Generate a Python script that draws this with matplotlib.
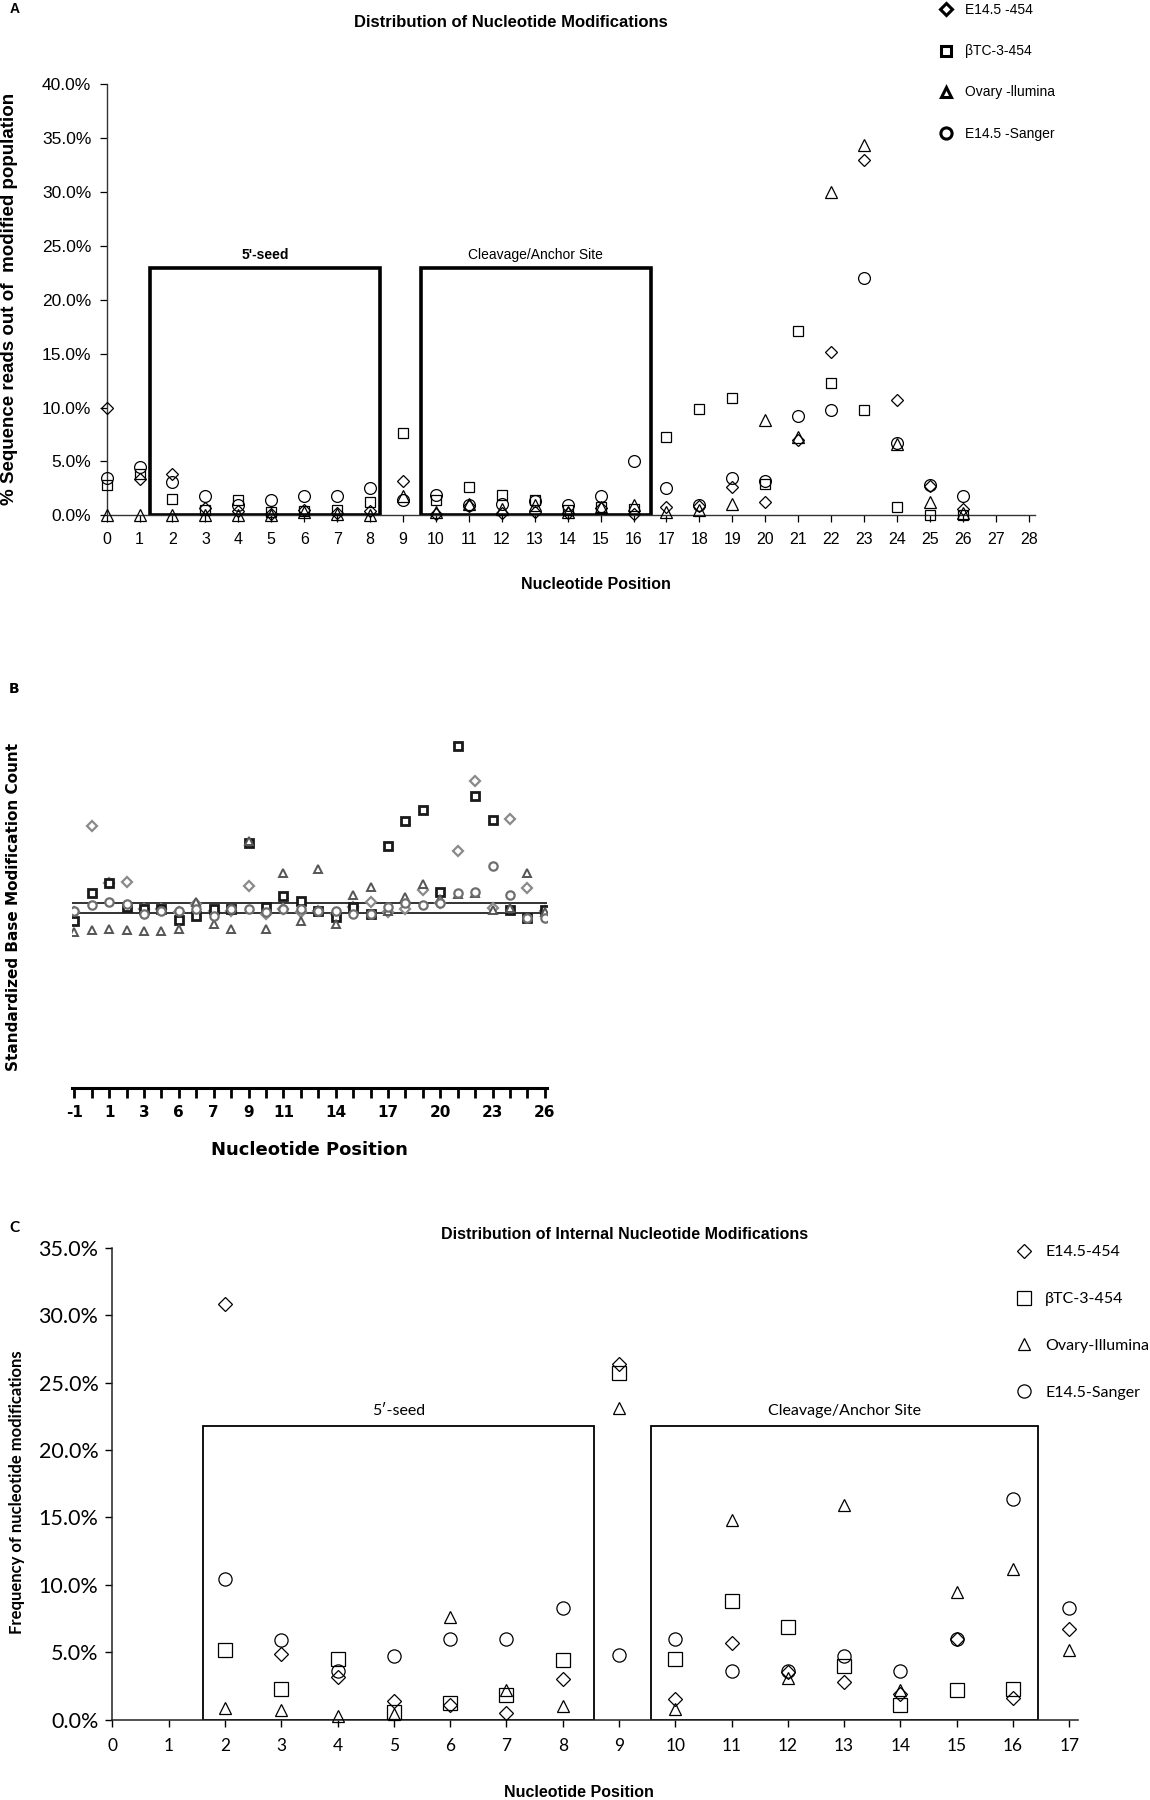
import matplotlib
matplotlib.use("Agg")
import matplotlib.pyplot as plt
from matplotlib.lines import Line2D
from matplotlib.patches import Rectangle
from matplotlib.ticker import FuncFormatter
import numpy as np

# ---------------- data ----------------
series_names_a = ["E14.5 -454", "\u03b2TC-3-454", "Ovary -llumina", "E14.5 -Sanger"]
series_names_c = ["E14.5-454", "\u03b2TC-3-454", "Ovary-Illumina", "E14.5-Sanger"]

# Panel A: % sequence reads out of modified population, positions 0..26
pos_a = list(range(0, 27))
a_e14_454 = [10.0, 3.4, 3.8, 0.7, 0.4, 0.1, 0.5, 0.2, 0.4, 3.2, 0.1, 0.9, 0.2, 0.3, 0.2, 0.7, 0.1,
             0.8, 0.9, 2.6, 1.2, 7.0, 15.1, 32.9, 10.7, 2.7, 0.6]
a_btc = [2.8, 3.8, 1.5, 0.5, 1.4, 0.3, 0.4, 0.5, 1.2, 7.6, 1.4, 2.6, 1.9, 1.4, 0.5, 0.8, 0.6,
         7.3, 9.9, 10.9, 2.9, 17.1, 12.3, 9.8, 0.8, 0.0, 0.0]
a_ovary = [0.0, 0.0, 0.0, 0.0, 0.0, 0.0, 0.3, 0.1, 0.0, 1.8, 0.3, 1.1, 0.6, 1.0, 0.3, 0.8, 1.0,
           0.3, 0.5, 1.1, 8.8, 7.3, 30.0, 34.3, 6.6, 1.2, 0.2]
a_sanger = [3.5, 4.5, 3.1, 1.8, 1.0, 1.4, 1.8, 1.8, 2.5, 1.4, 1.9, 1.0, 1.1, 1.3, 1.0, 1.8, 5.0,
            2.5, 1.0, 3.5, 3.2, 9.2, 9.8, 22.0, 6.7, 2.8, 1.8]
a_ticks = list(range(0, 29))

# Panel B: standardized base modification count, positions -1..26
pos_b = list(range(-1, 27))
b_e14_454 = [0.1, 8.7, 3.0, 3.1, 0.4, 0.4, 0.1, 0.9, 0.2, 0.2, 2.7, -0.1, 0.4, 0.1, 0.2, -0.1,
             0.6, 1.1, 0.1, 0.4, 2.3, 1.0, 6.2, 13.2, 0.5, 9.4, 2.5, 0.2]
b_btc = [-0.8, 2.0, 3.0, 0.6, 0.4, 0.4, -0.7, -0.3, 0.4, 0.4, 7.0, 0.6, 1.7, 1.2, 0.2, -0.4,
         0.6, -0.1, 6.7, 9.2, 10.3, 2.1, 16.7, 11.7, 9.3, 0.3, -0.5, 0.3]
b_ovary = [-1.9, -1.7, -1.6, -1.7, -1.8, -1.8, -1.6, 1.1, -1.1, -1.6, 7.2, -1.6, 4.0, -0.8, 4.4,
           -1.1, 1.8, 2.6, 0.2, 1.6, 2.9, 1.4, 1.9, 2.0, 0.3, 0.5, 4.0, 0.1]
b_sanger = [0.2, 0.8, 1.1, 0.9, -0.1, 0.2, 0.2, 0.4, -0.3, 0.4, 0.4, 0.1, 0.4, 0.4, 0.2, 0.2,
            -0.1, -0.1, 0.6, 1.0, 0.8, 1.0, 2.0, 2.1, 4.7, 1.8, -0.5, -0.5]
b_reference_lines = [0.0, 1.0]
b_label_pos = [-1, 1, 3, 5, 7, 9, 11, 14, 17, 20, 23, 26]
b_label_txt = ["-1", "1", "3", "6", "7", "9", "11", "14", "17", "20", "23", "26"]

# Panel C: frequency of internal nucleotide modifications, positions 2..17
pos_c = list(range(2, 18))
c_e14_454 = [30.8, 4.9, 3.2, 1.4, 1.1, 0.5, 3.0, 26.4, 1.5, 5.7, 3.5, 2.8, 1.9, 6.0, 1.6, 6.7]
c_btc = [5.2, 2.3, 4.5, 0.6, 1.2, 1.8, 4.4, 25.7, 4.5, 8.8, 6.9, 4.0, 1.1, 2.2, 2.3, np.nan]
c_ovary = [0.9, 0.7, 0.3, 0.4, 7.6, 2.2, 1.0, 23.1, 0.8, 14.8, 3.1, 15.9, 2.2, 9.5, 11.2, 5.2]
c_sanger = [10.4, 5.9, 3.6, 4.7, 6.0, 6.0, 8.3, 4.8, 6.0, 3.6, 3.6, 4.7, 3.6, 6.0, 16.4, 8.3]
c_ticks = list(range(0, 18))

# ---------------- layout helpers (reference layout units) ----------------
W, H = 1003.0, 1568.0
def fx(x):
    return x / W
def fy(y):
    return 1 - y / H
def rect(l, t, r, b):
    return [fx(l), fy(b), (r - l) / W, (b - t) / H]

ARIAL = "Liberation Sans"
CAL = "Lato"
HEAVY = "DejaVu Sans"

markers = ["D", "s", "^", "o"]
msizes = [6.5, 7, 8, 8.5]
pct = FuncFormatter(lambda v, p: f"{v:.1f}%")

fig = plt.figure(figsize=(11.5, 18), dpi=100)

# ================= Panel A =================
axA = fig.add_axes(rect(93, 73, 903, 449))
for ys, m, ms in zip([a_e14_454, a_btc, a_ovary, a_sanger], markers, msizes):
    axA.plot(pos_a, ys, linestyle="none", marker=m, ms=ms, mfc="none", mec="black", mew=0.9,
             clip_on=False, zorder=3)
axA.set_xlim(0, 28.2)
axA.set_ylim(0, 40)
axA.set_yticks(np.arange(0, 40.1, 5))
axA.yaxis.set_major_formatter(pct)
axA.set_xticks(a_ticks)
for s in ["top", "right"]:
    axA.spines[s].set_visible(False)
for s in ["left", "bottom"]:
    axA.spines[s].set_linewidth(1.0)
    axA.spines[s].set_color("#333333")
axA.tick_params(axis="y", direction="out", length=5, width=0.9, labelsize=12.5, pad=6)
axA.tick_params(axis="x", direction="out", length=5, width=0.9, labelsize=11.5, pad=7)
for lab in axA.get_xticklabels() + axA.get_yticklabels():
    lab.set_fontfamily(ARIAL)
# boxes
axA.add_patch(Rectangle((1.32, 0), 8.29 - 1.32, 22.9, fill=False, lw=2.6, ec="black", zorder=2))
axA.add_patch(Rectangle((9.55, 0), 16.52 - 9.55, 22.9, fill=False, lw=2.6, ec="black", zorder=2))
axA.text((1.32 + 8.29) / 2, 23.5, "5'-seed", ha="center", va="bottom", fontsize=10,
         fontweight="bold", family=ARIAL)
axA.text((9.55 + 16.52) / 2, 23.5, "Cleavage/Anchor Site", ha="center", va="bottom",
         fontsize=10, family=ARIAL)
fig.text(fx(446), fy(20), "Distribution of Nucleotide Modifications", fontsize=12,
         fontweight="bold", family=ARIAL, ha="center", va="center")
axA.set_ylabel("% Sequence reads out of  modified population", fontsize=13.5,
               fontweight="bold", family=ARIAL)
axA.yaxis.set_label_coords((16 - 93) / 810, (449 - 260) / 376)
axA.set_xlabel("Nucleotide Position", fontsize=11.5, fontweight="bold", family=ARIAL)
axA.xaxis.set_label_coords((520 - 93) / 810, -(503 - 449) / 376)
handlesA = [Line2D([], [], linestyle="none", marker=m, ms=ms * 0.95, mfc="white", mec="black",
                   mew=2.2) for m, ms in zip(markers, msizes)]
legA = fig.legend(handlesA, series_names_a, loc="upper left",
                  bbox_to_anchor=(fx(808), fy(-8)), frameon=False,
                  labelspacing=1.95, handlelength=1.0, handletextpad=0.9,
                  prop={"family": ARIAL, "size": 10})
fig.text(fx(8), fy(8), "A", fontsize=10, fontweight="bold", family=ARIAL, va="center")

# ================= Panel B =================
axB = fig.add_axes(rect(62.5, 600, 477.5, 948))
stylesB = [
    dict(marker="D", ms=5.5, mec="#8a8a8a", mew=1.6),
    dict(marker="s", ms=5.5, mec="#1a1a1a", mew=2.0),
    dict(marker="^", ms=6.0, mec="#555555", mew=1.4),
    dict(marker="o", ms=6.0, mec="#6e6e6e", mew=1.6),
]
for yv in b_reference_lines:
    axB.axhline(yv, color="#222222", lw=1.3, zorder=1)
for ys, st in zip([b_e14_454, b_btc, b_ovary, b_sanger], stylesB):
    axB.plot(pos_b, ys, linestyle="none", mfc="white", zorder=3, **st)
axB.set_xlim(-1.15, 26.15)
axB.set_ylim(-17.5, 22.4)
axB.set_yticks([])
for s in ["top", "right", "left"]:
    axB.spines[s].set_visible(False)
axB.spines["bottom"].set_linewidth(2.2)
axB.set_xticks(pos_b, minor=True)
axB.set_xticks(b_label_pos, b_label_txt)
axB.tick_params(axis="x", which="both", direction="out", length=7, width=2.0, labelsize=11,
                pad=5)
for lab in axB.get_xticklabels():
    lab.set_fontfamily(HEAVY)
    lab.set_fontweight("heavy")
axB.set_xlabel("Nucleotide Position", fontsize=13, fontweight="heavy", family=HEAVY)
axB.xaxis.set_label_coords((270 - 62.5) / 415, -(994 - 948) / 348)
axB.set_ylabel("Standardized Base Modification Count", fontsize=11, fontweight="bold",
               family=HEAVY)
axB.yaxis.set_label_coords((18 - 62.5) / 415, (948 - 790) / 348)
fig.text(fx(8), fy(600), "B", fontsize=10, fontweight="bold", family=HEAVY, va="center")

# ================= Panel C =================
axC = fig.add_axes(rect(98, 1087, 940, 1498))
msC = [7, 9.5, 8.5, 9.5]
for ys, m, ms in zip([c_e14_454, c_btc, c_ovary, c_sanger], markers, msC):
    axC.plot(pos_c, ys, linestyle="none", marker=m, ms=ms, mfc="none", mec="black", mew=0.9,
             clip_on=False, zorder=3)
axC.set_xlim(0, 17.15)
axC.set_ylim(0, 35)
axC.set_yticks(np.arange(0, 35.1, 5))
axC.yaxis.set_major_formatter(pct)
axC.set_xticks(c_ticks)
for s in ["top", "right"]:
    axC.spines[s].set_visible(False)
for s in ["left", "bottom"]:
    axC.spines[s].set_linewidth(1.1)
    axC.spines[s].set_color("#222222")
axC.tick_params(axis="y", direction="out", length=5, width=1.0, labelsize=15.5, pad=5)
axC.tick_params(axis="x", direction="out", length=5, width=1.0, labelsize=12.5, pad=8)
for lab in axC.get_xticklabels() + axC.get_yticklabels():
    lab.set_fontfamily(CAL)
axC.add_patch(Rectangle((1.61, 0), 8.55 - 1.61, 21.8, fill=False, lw=1.3, ec="black", zorder=2))
axC.add_patch(Rectangle((9.57, 0), 16.44 - 9.57, 21.8, fill=False, lw=1.3, ec="black", zorder=2))
axC.text((1.61 + 8.55) / 2, 22.4, "5\u2032-seed", ha="center", va="bottom", fontsize=11.5,
         family=CAL)
axC.text((9.57 + 16.44) / 2, 22.4, "Cleavage/Anchor Site", ha="center", va="bottom",
         fontsize=11.5, family=CAL)
fig.text(fx(545), fy(1075), "Distribution of Internal Nucleotide Modifications",
         fontsize=11.5, fontweight="bold", family=ARIAL, ha="center", va="center")
axC.set_ylabel("Frequency of nucleotide modifications", fontsize=12, fontweight="bold",
               family=CAL)
axC.yaxis.set_label_coords((22 - 98) / 842, (1498 - 1300) / 411)
axC.set_xlabel("Nucleotide Position", fontsize=11.5, fontweight="bold", family=ARIAL)
axC.xaxis.set_label_coords((505 - 98) / 842, -(1555 - 1498) / 411)
handlesC = [Line2D([], [], linestyle="none", marker=m, ms=ms, mfc="white", mec="black",
                   mew=0.9) for m, ms in zip(markers, msC)]
legC = fig.legend(handlesC, series_names_c, loc="upper left",
                  bbox_to_anchor=(fx(874), fy(1072)), frameon=False,
                  labelspacing=2.05, handlelength=1.0, handletextpad=0.8,
                  prop={"family": CAL, "size": 11.5})
fig.text(fx(8), fy(1070), "C", fontsize=11, fontweight="bold", family=CAL, va="center")

fig.savefig("out.png", dpi=100, facecolor="white")
